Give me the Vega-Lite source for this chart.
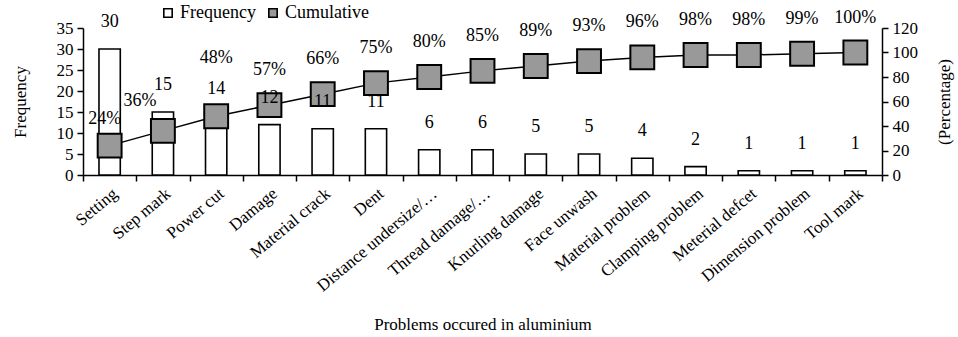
{
  "$schema": "https://vega.github.io/schema/vega-lite/v6.json",
  "autosize": "none",
  "width": 799,
  "height": 147,
  "padding": {"left": 83, "top": 28, "right": 76, "bottom": 162},
  "background": "white",
  "config": {
    "font": "Liberation Serif",
    "view": {"stroke": null},
    "axis": {
      "grid": false,
      "domainColor": "black",
      "domainWidth": 1.5,
      "tickColor": "black",
      "tickWidth": 1.5,
      "tickSize": 6,
      "labelColor": "black",
      "labelFont": "Liberation Serif",
      "labelFontSize": 17,
      "titleFont": "Liberation Serif",
      "titleFontSize": 17,
      "titleFontWeight": "normal",
      "titleColor": "black"
    },
    "legend": {
      "labelFont": "Liberation Serif",
      "labelFontSize": 18,
      "labelColor": "black"
    }
  },
  "data": {
    "values": [
      {"Problem": "Setting", "Frequency": 30, "Cumulative": 24, "Label": "24%"},
      {"Problem": "Step mark", "Frequency": 15, "Cumulative": 36, "Label": "36%"},
      {"Problem": "Power cut", "Frequency": 14, "Cumulative": 48, "Label": "48%"},
      {"Problem": "Damage", "Frequency": 12, "Cumulative": 57, "Label": "57%"},
      {"Problem": "Material crack", "Frequency": 11, "Cumulative": 66, "Label": "66%"},
      {"Problem": "Dent", "Frequency": 11, "Cumulative": 75, "Label": "75%"},
      {"Problem": "Distance undersize/…", "Frequency": 6, "Cumulative": 80, "Label": "80%"},
      {"Problem": "Thread damage/…", "Frequency": 6, "Cumulative": 85, "Label": "85%"},
      {"Problem": "Knurling damage", "Frequency": 5, "Cumulative": 89, "Label": "89%"},
      {"Problem": "Face unwash", "Frequency": 5, "Cumulative": 93, "Label": "93%"},
      {"Problem": "Material problem", "Frequency": 4, "Cumulative": 96, "Label": "96%"},
      {"Problem": "Clamping problem", "Frequency": 2, "Cumulative": 98, "Label": "98%"},
      {"Problem": "Meterial defcet", "Frequency": 1, "Cumulative": 98, "Label": "98%"},
      {"Problem": "Dimension problem", "Frequency": 1, "Cumulative": 99, "Label": "99%"},
      {"Problem": "Tool mark", "Frequency": 1, "Cumulative": 100, "Label": "100%"}
    ]
  },
  "encoding": {
    "x": {
      "field": "Problem",
      "type": "nominal",
      "sort": null,
      "scale": {"paddingInner": 0, "paddingOuter": 0},
      "axis": {
        "title": "Problems occured in aluminium",
        "labelAngle": -40,
        "labelPadding": 4,
        "tickBand": "extent",
        "titleY": 149,
        "titleBaseline": "middle"
      }
    }
  },
  "layer": [
    {
      "mark": {"type": "bar", "stroke": "black", "strokeWidth": 1.6, "width": {"band": 0.4}},
      "encoding": {
        "y": {
          "field": "Frequency",
          "type": "quantitative",
          "scale": {"domain": [0, 35]},
          "axis": {
            "title": "Frequency",
            "values": [0, 5, 10, 15, 20, 25, 30, 35],
            "titleX": -63,
            "titleBaseline": "middle",
            "titleAngle": -90,
            "labelPadding": 4
          }
        },
        "color": {
          "datum": "Frequency",
          "scale": {"domain": ["Frequency", "Cumulative"], "range": ["white", "#999999"]},
          "legend": {
            "title": null,
            "orient": "none",
            "direction": "horizontal",
            "legendX": 76,
            "legendY": -24,
            "symbolType": "square",
            "symbolSize": 70,
            "symbolStrokeColor": "black",
            "symbolStrokeWidth": 1.6,
            "labelOffset": 3,
            "columnPadding": 8
          }
        }
      }
    },
    {
      "encoding": {
        "y": {
          "field": "Cumulative",
          "type": "quantitative",
          "scale": {"domain": [0, 120]},
          "axis": {
            "title": "(Percentage)",
            "orient": "right",
            "values": [0, 20, 40, 60, 80, 100, 120],
            "titleX": 62,
            "titleBaseline": "middle",
            "titleAngle": -90,
            "labelPadding": 4
          }
        }
      },
      "layer": [
        {
          "mark": {"type": "line", "color": "black", "strokeWidth": 1.5}
        },
        {
          "mark": {"type": "point", "shape": "square", "size": 570, "filled": true, "opacity": 1, "stroke": "black", "strokeWidth": 2},
          "encoding": {"color": {"datum": "Cumulative"}}
        },
        {
          "transform": [{"filter": "datum.Problem == 'Setting'"}],
          "mark": {"type": "text", "dy": -27, "dx": -5, "fontSize": 18, "color": "black", "font": "Liberation Serif"},
          "encoding": {"text": {"field": "Label"}}
        },
        {
          "transform": [{"filter": "datum.Problem == 'Step mark'"}],
          "mark": {"type": "text", "dy": -30, "dx": -23, "fontSize": 18, "color": "black", "font": "Liberation Serif"},
          "encoding": {"text": {"field": "Label"}}
        },
        {
          "transform": [{"filter": "datum.Problem == 'Power cut'"}],
          "mark": {"type": "text", "dy": -58, "fontSize": 18, "color": "black", "font": "Liberation Serif"},
          "encoding": {"text": {"field": "Label"}}
        },
        {
          "transform": [{"filter": "datum.Cumulative > 50"}],
          "mark": {"type": "text", "dy": -35, "fontSize": 18, "color": "black", "font": "Liberation Serif"},
          "encoding": {"text": {"field": "Label"}}
        }
      ]
    },
    {
      "mark": {"type": "text", "dy": -27, "fontSize": 18, "color": "black", "font": "Liberation Serif"},
      "encoding": {
        "y": {
          "field": "Frequency",
          "type": "quantitative",
          "scale": {"domain": [0, 35]},
          "axis": null
        },
        "text": {"field": "Frequency", "type": "quantitative"}
      }
    }
  ],
  "resolve": {"scale": {"y": "independent"}}
}
